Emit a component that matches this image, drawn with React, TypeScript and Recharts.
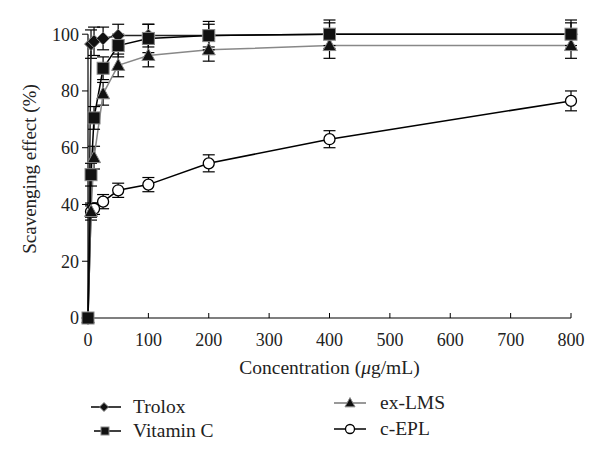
import React from 'react'
import { LineChart, Line, XAxis, YAxis, ErrorBar, Label, ReferenceLine } from 'recharts'

const conc = [0, 5, 10, 25, 50, 100, 200, 400, 800]
const trolox = [0, 96.5, 97.5, 98.5, 99.5, 99.5, 99.5, 100, 100]
const troloxErr = [0, 5, 5, 4, 4, 4, 4, 4, 4]
const vitaminC = [0, 50.5, 70.5, 88, 96, 98.5, 99.5, 100, 100]
const vitaminCErr = [0, 4, 4, 4, 4, 5, 5, 5, 5]
const exLMS = [0, 37.5, 56.5, 79, 89, 92.5, 94.5, 96, 96]
const exLMSErr = [0, 3, 4, 4, 4, 4, 4, 4.5, 4.5]
const cEPL = [0, 37.5, 38.5, 41, 45, 47, 54.5, 63, 76.5]
const cEPLErr = [0, 2, 2, 2.5, 2.5, 2.5, 3, 3, 3.5]

const xTicks = [0, 100, 200, 300, 400, 500, 600, 700, 800]
const yTicks = [0, 20, 40, 60, 80, 100]

const data = conc.map((c, i) => ({
  conc: c,
  trolox: trolox[i], troloxErr: troloxErr[i],
  vitaminC: vitaminC[i], vitaminCErr: vitaminCErr[i],
  exLMS: exLMS[i], exLMSErr: exLMSErr[i],
  cEPL: cEPL[i], cEPLErr: cEPLErr[i],
}))

const FONT = '"Liberation Serif", "DejaVu Serif", serif'
const TEXT = '#222'

const Diamond = ({ cx, cy, s = 6.5 }: any) => (
  <polygon points={`${cx},${cy - s} ${cx + s},${cy} ${cx},${cy + s} ${cx - s},${cy}`} fill="#111" stroke="#888" strokeWidth={1} />
)
const Square = ({ cx, cy, s = 6 }: any) => (
  <rect x={cx - s} y={cy - s} width={2 * s} height={2 * s} fill="#111" stroke="#888" strokeWidth={1} />
)
const Triangle = ({ cx, cy, s = 6.5 }: any) => (
  <polygon points={`${cx},${cy - s * 1.08} ${cx + s},${cy + s * 0.77} ${cx - s},${cy + s * 0.77}`} fill="#111" stroke="#888" strokeWidth={1} />
)
const Circle = ({ cx, cy, s = 5.5 }: any) => (
  <circle cx={cx} cy={cy} r={s} fill="#fff" stroke="#000" strokeWidth={1.3} />
)

const XTick = ({ x, payload }: any) => (
  <text x={x} y={346} textAnchor="middle" fontFamily={FONT} fontSize={18} fill={TEXT}>
    {payload.value}
  </text>
)

const XLabel = ({ viewBox }: any) => {
  const { x, width } = viewBox
  return (
    <text x={x + width / 2} y={374} textAnchor="middle" fontFamily={FONT} fontSize={19.5} fill={TEXT}>
      <tspan>Concentration (</tspan>
      <tspan fontStyle="italic">μ</tspan>
      <tspan>g/mL)</tspan>
    </text>
  )
}

const legendText: React.CSSProperties = { position: 'absolute', fontFamily: FONT, fontSize: 19.5, color: TEXT, lineHeight: '22px' }

const LegendIcon = ({ kind, left, top, width, mx, s }: any) => (
  <svg style={{ position: 'absolute', left, top }} width={width} height={18}>
    <line x1={0} x2={width} y1={9} y2={9} stroke={kind === 'tri' ? '#777' : '#000'} strokeWidth={1.5} />
    {kind === 'dia' && <Diamond cx={mx} cy={9} s={s} />}
    {kind === 'sq' && <Square cx={mx} cy={9} s={s} />}
    {kind === 'tri' && <Triangle cx={mx} cy={9} s={s} />}
    {kind === 'cir' && <Circle cx={mx} cy={9} s={s} />}
  </svg>
)

export default function App() {
  return (
    <div style={{ position: 'absolute', left: 0, top: 0, width: 600, height: 465, background: '#fff' }}>
      <LineChart width={600} height={385} data={data} margin={{ top: 20, right: 29, left: 0, bottom: 0 }}>
        <XAxis
          dataKey="conc"
          type="number"
          domain={[0, 800]}
          ticks={xTicks}
          height={67}
          axisLine={{ stroke: '#000', strokeWidth: 1.2 }}
          tickLine={{ stroke: '#000' }}
          tickSize={-5}
          tick={<XTick />}
        >
          <Label content={<XLabel />} />
        </XAxis>
        <YAxis
          type="number"
          domain={[0, 105]}
          ticks={yTicks}
          width={88}
          axisLine={false}
          tickLine={{ stroke: '#000' }}
          tickSize={6}
          tickMargin={3}
          tick={{ fontFamily: FONT, fontSize: 18, fill: TEXT }}
        >
          <Label value="Scavenging effect (%)" angle={-90} position="insideLeft" offset={29} style={{ textAnchor: 'middle', fontFamily: FONT, fontSize: 19, fill: TEXT }} />
        </YAxis>
        <ReferenceLine segment={[{ x: 0, y: 0 }, { x: 0, y: 100 }]} stroke="#000" strokeWidth={1.2} />
        <Line dataKey="cEPL" stroke="#000" strokeWidth={1.5} dot={<Circle />} isAnimationActive={false}>
          <ErrorBar dataKey="cEPLErr" width={6} stroke="#000" strokeWidth={1.2} direction="y" />
        </Line>
        <Line dataKey="exLMS" stroke="#888" strokeWidth={1.5} dot={<Triangle />} isAnimationActive={false}>
          <ErrorBar dataKey="exLMSErr" width={6} stroke="#000" strokeWidth={1.2} direction="y" />
        </Line>
        <Line dataKey="trolox" stroke="#222" strokeWidth={1.5} dot={<Diamond />} isAnimationActive={false}>
          <ErrorBar dataKey="troloxErr" width={6} stroke="#000" strokeWidth={1.2} direction="y" />
        </Line>
        <Line dataKey="vitaminC" stroke="#000" strokeWidth={1.5} dot={<Square />} isAnimationActive={false}>
          <ErrorBar dataKey="vitaminCErr" width={6} stroke="#000" strokeWidth={1.2} direction="y" />
        </Line>
      </LineChart>

      <LegendIcon kind="dia" left={91} top={398} width={30} mx={13} s={4.5} />
      <div style={{ ...legendText, left: 133, top: 396 }}>Trolox</div>
      <LegendIcon kind="sq" left={94} top={422} width={27} mx={11} s={4} />
      <div style={{ ...legendText, left: 133, top: 420 }}>Vitamin C</div>
      <LegendIcon kind="tri" left={334} top={394} width={32} mx={16} s={5} />
      <div style={{ ...legendText, left: 380, top: 392 }}>ex-LMS</div>
      <LegendIcon kind="cir" left={334} top={420} width={32} mx={16} s={4.5} />
      <div style={{ ...legendText, left: 380, top: 418 }}>c-EPL</div>
    </div>
  )
}
